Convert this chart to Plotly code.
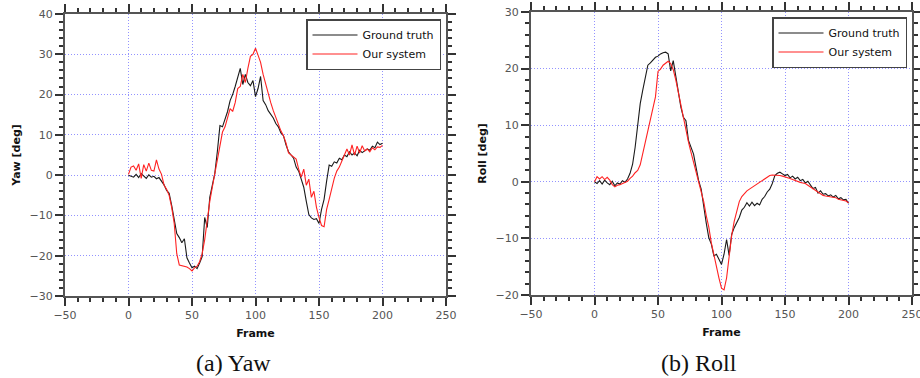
import plotly.graph_objects as go

# Frame indices (every second frame)
frames = list(range(0, 201, 2))

yaw_truth = [
    0, -0.3, -0.5, 0.2, -0.6, 0.4, -0.2, -0.8, 0.1, -0.5,
    -0.3, -0.9, -0.6, -1.5, -2.4, -3.8, -4.5, -7.5, -11.5, -14.5,
    -15.5, -16.8, -15.8, -20.5, -21.8, -23.0, -22.6, -23.2, -21.8, -20.2,
    -10.5, -13.0, -5.5, -2.0, 0.5, 6.0, 12.3, 12.0, 14.0, 15.8,
    18.5, 20.0, 22.0, 24.5, 26.5, 22.5, 25.0, 23.0, 22.2, 23.5,
    19.5, 21.5, 24.5, 18.5, 17.5, 16.0, 15.0, 14.2, 12.8, 12.0,
    10.5, 9.8, 7.5, 5.8, 5.0, 4.2, 2.0, 1.0, -1.0, -3.0,
    -6.5, -9.8, -10.6, -11.0, -10.8, -12.0, -8.5, -6.0, -1.5, 2.5,
    2.2, 3.3, 3.0, 4.2, 3.8, 5.0, 4.6, 5.8, 5.0, 5.5,
    4.8, 6.2, 5.6, 6.0, 6.5, 6.2, 7.2, 6.8, 8.2, 7.6,
    7.9,
]

yaw_system = [
    0.2, 2.0, 2.3, 1.2, 2.8, -0.8, 2.6, 1.0, 3.0, 1.2,
    1.0, 3.8, 1.5, 0.2, -2.5, -3.5, -5.0, -8.0, -12.0, -19.5,
    -22.3, -22.5, -22.6, -22.8, -23.2, -23.8, -23.0, -22.6, -21.5, -19.5,
    -16.0, -11.0, -6.5, -3.0, 0.5, 3.5, 8.0, 10.7, 12.0, 14.2,
    16.5, 15.8, 18.0, 21.5, 22.0, 25.0, 23.0, 26.5, 29.5, 30.0,
    31.5, 29.8, 28.0, 25.0, 22.5, 20.0, 18.0, 16.0, 14.2, 12.5,
    11.0, 9.8, 8.0, 5.5, 5.0, 4.6, 4.0, 1.5, -0.5, 1.5,
    -2.5, -1.0, -5.5, -4.0, -8.0, -10.5, -12.5, -12.8, -8.5, -6.0,
    -3.0, -0.8, 1.0, 2.0, 3.5, 5.0, 6.5, 5.0, 7.5, 5.0,
    7.2, 5.5, 7.3, 6.0, 6.5, 5.8, 6.8, 6.3, 7.0, 6.9,
    7.4,
]

roll_truth = [
    0, -0.3, 0.2, -0.4, 0.3, -0.2, -0.5, 0.1, -0.7, -0.2,
    -0.4, 0.2, -0.1, 0.5, 1.5, 3.1, 6.1, 9.6, 13.8, 16.2,
    18.2, 20.6, 21.0, 21.5, 22.0, 22.2, 22.6, 22.8, 22.9, 22.6,
    19.6, 21.4, 18.5, 16.2, 13.2, 11.4, 10.8, 7.3, 6.1, 4.9,
    2.5, 0.2, -1.3, -4.6, -7.3, -9.9, -11.0, -13.1, -12.8, -13.7,
    -14.6, -12.8, -10.2, -13.0, -9.3, -8.1, -7.2, -6.3, -5.0, -4.5,
    -3.7, -4.3, -3.6, -4.2, -3.8, -4.1, -3.1, -2.6, -1.8, -1.3,
    -0.3, 1.1, 1.5, 1.7, 1.4, 1.1, 1.3, 0.7, 1.0, 0.5,
    0.8, 0.2, 0.4, -0.2, 0.1, -0.6, -1.2, -1.0, -2.0, -1.6,
    -2.2, -2.1, -2.5, -2.3, -2.7, -2.4, -3.0, -2.8, -3.2, -3.1,
    -3.8,
]

roll_system = [
    0, 0.9, 0.5, 0.9, 0.4, 0.8, 0.3, -0.5, -0.9, -0.6,
    -0.5, -0.3, -0.2, 0.1, 0.6, 1.0, 1.6, 2.0, 3.0, 5.0,
    7.5, 9.3, 11.0, 13.0, 15.0, 19.5, 19.9, 20.6, 21.0, 21.3,
    20.9, 19.8, 18.0, 15.8, 13.2, 11.0, 9.0, 7.0, 5.2, 3.5,
    1.8, 0.2, -1.6, -3.5, -6.0, -8.0, -10.8, -13.0, -15.0, -17.0,
    -18.8, -19.1, -17.0, -13.0, -9.5, -7.0, -5.0, -3.5, -2.6, -2.0,
    -1.6, -1.3, -1.0, -0.7, -0.4, -0.1, 0.2, 0.6, 0.9, 1.1,
    1.2, 1.2, 1.2, 1.1, 1.0, 0.9, 0.8, 0.6, 0.4, 0.2,
    0.0, -0.1, -0.2, -0.3, -0.6, -0.9, -1.1, -1.4, -1.8, -2.1,
    -2.4, -2.5, -2.6, -2.6, -2.7, -2.8, -3.1, -3.2, -3.3, -3.4,
    -3.7,
]

series_names = ["Ground truth", "Our system"]
captions = ["(a) Yaw", "(b) Roll"]

TRUTH_COLOR = "#1a1a1a"
SYSTEM_COLOR = "#ff2222"
GRID_COLOR = "rgba(120,120,255,0.8)"
AXIS_COLOR = "#555555"
TICK_FONT = dict(family="DejaVu Sans", size=11, color="#555555")
TITLE_FONT = dict(family="DejaVu Sans", size=11, color="#111111")

fig = go.Figure()

panels = [
    dict(x="x", y="y", legend="legend", truth=yaw_truth, system=yaw_system),
    dict(x="x2", y="y2", legend="legend2", truth=roll_truth, system=roll_system),
]
for p in panels:
    fig.add_trace(go.Scatter(
        x=frames, y=p["truth"], mode="lines", name=series_names[0],
        line=dict(color=TRUTH_COLOR, width=1.1), xaxis=p["x"], yaxis=p["y"],
        legend=p["legend"],
    ))
    fig.add_trace(go.Scatter(
        x=frames, y=p["system"], mode="lines", name=series_names[1],
        line=dict(color=SYSTEM_COLOR, width=1.1), xaxis=p["x"], yaxis=p["y"],
        legend=p["legend"],
    ))


def xaxis_style(domain, anchor):
    return dict(
        domain=domain, anchor=anchor, range=[-50, 250], automargin=False,
        tickmode="linear", tick0=-50, dtick=50, ticklabeloverflow="allow",
        ticks="outside", ticklen=8, tickwidth=1.5, tickcolor="#333333",
        minor=dict(dtick=10, ticks="outside", ticklen=4, tickwidth=1.5,
                   tickcolor="#333333", showgrid=False),
        showline=True, linecolor=AXIS_COLOR, linewidth=2, mirror="allticks",
        showgrid=True, gridcolor=GRID_COLOR, griddash="1px,2px", gridwidth=1,
        zeroline=False, tickfont=TICK_FONT,
        title=dict(text="<b>Frame</b>", font=TITLE_FONT, standoff=8),
    )


def yaxis_style(domain, anchor, rng, title):
    return dict(
        domain=domain, anchor=anchor, range=rng, automargin=False,
        tickmode="linear", tick0=rng[0], dtick=10, ticklabeloverflow="allow",
        ticks="outside", ticklen=8, tickwidth=1.5, tickcolor="#333333",
        minor=dict(dtick=2, ticks="outside", ticklen=4, tickwidth=1.5,
                   tickcolor="#333333", showgrid=False),
        showline=True, linecolor=AXIS_COLOR, linewidth=2, mirror="allticks",
        showgrid=True, gridcolor=GRID_COLOR, griddash="1px,2px", gridwidth=1,
        zeroline=False, tickfont=TICK_FONT,
        title=dict(text="<b>" + title + "</b>", font=TITLE_FONT, standoff=7),
    )


W, H = 920, 378
legend_style = dict(
    xanchor="right", yanchor="top",
    bgcolor="white", bordercolor="#444444", borderwidth=1.5,
    font=dict(family="DejaVu Sans", size=11, color="#111111"),
    tracegroupgap=0, itemwidth=45,
)
fig.update_layout(
    width=W, height=H,
    margin=dict(l=0, r=0, t=0, b=0, autoexpand=False),
    paper_bgcolor="white", plot_bgcolor="white",
    font=dict(family="DejaVu Sans", size=11, color="#111111"),
    xaxis=xaxis_style([65 / W, 446 / W], "y"),
    yaxis=yaxis_style([1 - 296 / H, 1 - 14 / H], "x", [-30, 40], "Yaw [deg]"),
    xaxis2=xaxis_style([531 / W, 912 / W], "y2"),
    yaxis2=yaxis_style([1 - 295 / H, 1 - 12 / H], "x2", [-20, 30], "Roll [deg]"),
    legend=dict(x=441 / W, y=1 - 19 / H, **legend_style),
    legend2=dict(x=907 / W, y=1 - 17 / H, **legend_style),
    showlegend=True,
)

# Sub-figure captions below each panel
for cx, text in zip([234, 699], captions):
    fig.add_annotation(
        x=cx / W, y=1 - 363 / H, xref="paper", yref="paper",
        text=text, showarrow=False, xanchor="center", yanchor="middle",
        font=dict(family="Liberation Serif", size=24, color="#111111"),
    )

fig.write_html("out.html")
